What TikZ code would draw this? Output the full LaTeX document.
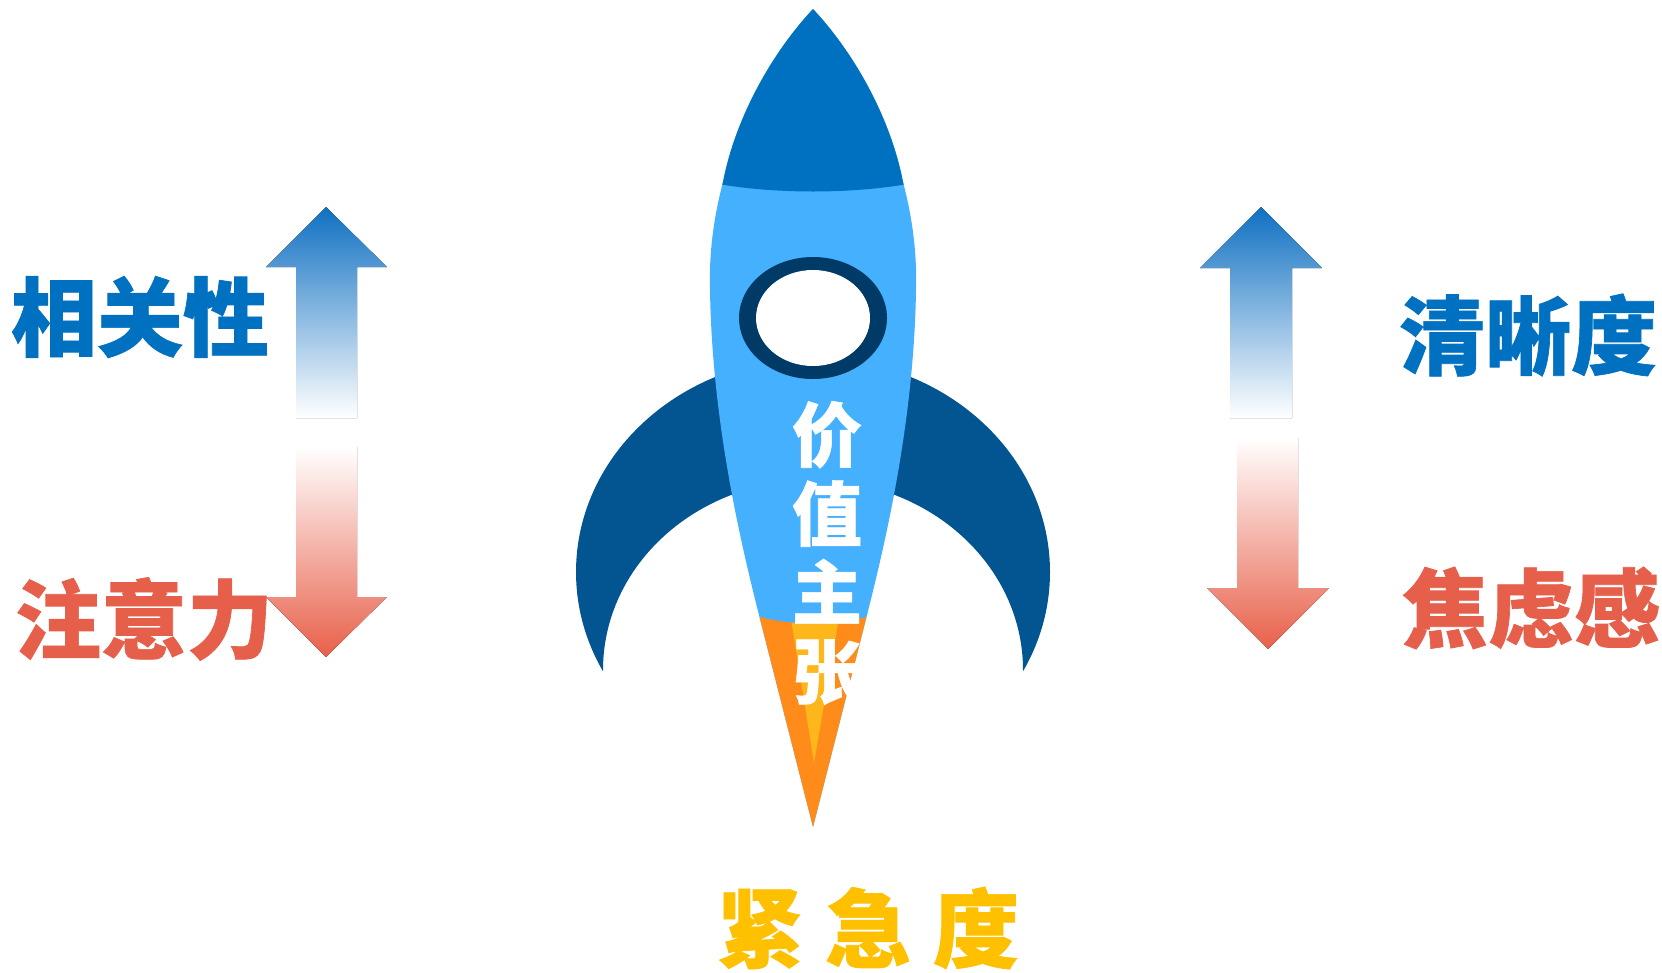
\documentclass[tikz,border=0pt]{standalone}
\usepackage{fontspec}
\newfontfamily\cjk{Noto Sans CJK SC}[BoldFeatures={FakeBold=0.8}]
\definecolor{nose}{HTML}{0071C1}
\definecolor{hull}{HTML}{45B0FE}
\definecolor{fin}{HTML}{035592}
\definecolor{ring}{HTML}{003A66}
\definecolor{flame}{HTML}{FF8C1A}
\definecolor{core}{HTML}{FDB71A}
\definecolor{upblue}{HTML}{0F70C2}
\definecolor{downred}{HTML}{E8604A}
\definecolor{txtblue}{HTML}{0070C0}
\definecolor{txtred}{HTML}{E65F4B}
\definecolor{txtgold}{HTML}{FFC000}
% rocket hull outline (nose tip to flame tip)
\def\hullpath{(813,9) .. controls (770,55) and (735,120) .. (723,182)
  .. controls (713,220) and (709,255) .. (710,290)
  .. controls (712,420) and (740,540) .. (759,615) -- (813,827) -- (867,615)
  .. controls (886,540) and (914,420) .. (916,290)
  .. controls (917,255) and (913,220) .. (903,182)
  .. controls (891,120) and (856,55) .. (813,9) -- cycle}
\def\flamepath{(740,610) .. controls (780,628) and (846,628) .. (886,610) -- (886,840) -- (740,840) -- cycle}
\begin{document}
\begin{tikzpicture}[x=1pt,y=-1pt,
  lbl/.style={font=\cjk\bfseries\fontsize{86}{90}\selectfont, inner sep=0pt},
  uparrow/.style={top color=upblue, bottom color=white, draw=none},
  downarrow/.style={top color=white, bottom color=downred, draw=none}]
\useasboundingbox (0,0) rectangle (1662,972);

% fins (crescent behind the hull)
\begin{scope}
  \clip (500,0) rectangle (1130,670);
  \fill[fin, even odd rule] (813,572) ellipse [x radius=237, y radius=214]
                            (813,670) ellipse [x radius=210, y radius=190];
\end{scope}

% hull, nose cone and exhaust
\begin{scope}
  \clip \hullpath;
  \fill[hull] (600,0) rectangle (1000,900);
  \fill[nose] (690,0) -- (936,0) -- (936,178) .. controls (866,196) and (760,196) .. (690,178) -- cycle;
  \fill[flame] \flamepath;
  \begin{scope}
    \clip \flamepath;
    \fill[core] (788,600) -- (842,600) -- (814,763) -- cycle;
  \end{scope}
\end{scope}

% porthole
\fill[ring] (813,318) ellipse [x radius=74, y radius=61];
\fill[white] (813,318) ellipse [x radius=57, y radius=48];

% vertical title on the hull
\node[font=\cjk\bfseries\fontsize{70}{79}\selectfont, text=white, align=center, inner sep=0pt]
  (vp) at (827,553) {价\\值\\主\\张};

% left arrow pair
\fill[uparrow] (326,207) -- (387,267) -- (357,267) -- (357,418) -- (296,418) -- (296,267) -- (266,267) -- cycle;
\fill[downarrow] (296,447) -- (357,447) -- (357,597) -- (387,597) -- (326,657) -- (266,597) -- (296,597) -- cycle;

% right arrow pair
\fill[uparrow] (1261,207) -- (1322,268) -- (1292,268) -- (1292,418) -- (1230,418) -- (1230,268) -- (1200,268) -- cycle;
\fill[downarrow] (1237,438) -- (1298,438) -- (1298,588) -- (1329,588) -- (1268,649) -- (1207,588) -- (1237,588) -- cycle;

% labels
\node[lbl, text=txtblue] (rel) at (140,317) {相关性};
\node[lbl, text=txtred] (att) at (144,619) {注意力};
\node[lbl, text=txtblue] (clr) at (1528,335) {清晰度};
\node[lbl, text=txtred] (anx) at (1531,608) {焦虑感};
\node[lbl, text=txtgold] (urg) at (868,928) {紧\hspace{22pt}急\hspace{22pt}度};
\end{tikzpicture}
\end{document}
